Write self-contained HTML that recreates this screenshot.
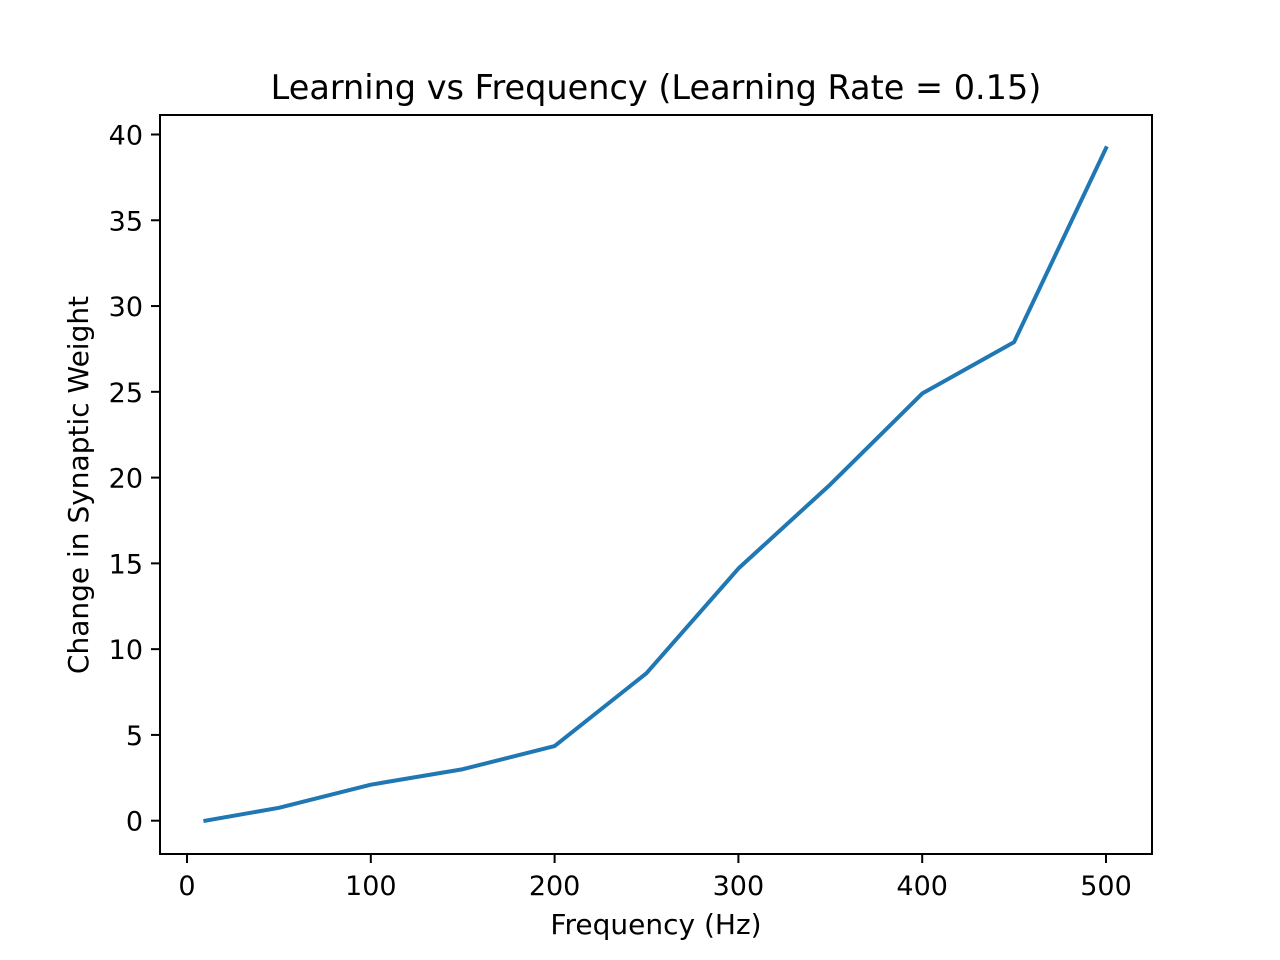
<!DOCTYPE html>
<html><head><meta charset="utf-8"><style>
html,body{margin:0;padding:0;background:#fff;width:1280px;height:960px;overflow:hidden}
text{font-family:"DejaVu Sans","Liberation Sans",sans-serif;fill:#000}
</style></head><body>
<svg id="chart" width="1280" height="960" xmlns="http://www.w3.org/2000/svg">
<rect width="1280" height="960" fill="#fff"/>
<text x="656" y="99" font-size="33.5" text-anchor="middle">Learning vs Frequency (Learning Rate = 0.15)</text>
<text x="656" y="934" font-size="28" text-anchor="middle">Frequency (Hz)</text>
<text x="88" y="485" font-size="28" text-anchor="middle" transform="rotate(-90 88 485)">Change in Synaptic Weight</text>
<g id="xticks"></g><g id="yticks"></g>
<g id="series"></g>
<rect x="160" y="115" width="992" height="739" fill="none" stroke="#000" stroke-width="2"/>
</svg>
<script>
const freqs = [10,50,100,150,200,250,300,350,400,450,500];
const weights = [0,0.75,2.1,3.0,4.35,8.6,14.7,19.6,24.9,27.9,39.2];
const xTickLabels = [0,100,200,300,400,500];
const yTickLabels = [0,5,10,15,20,25,30,35,40];
const NS='http://www.w3.org/2000/svg';
function xs(v){return 187+v*(1106-187)/500;}
function ys(v){return 820.7-v*(820.7-134.5)/40;}
const xg=document.getElementById('xticks'), yg=document.getElementById('yticks'), sg=document.getElementById('series');
function mk(tag,attrs,parent){const e=document.createElementNS(NS,tag);for(const k in attrs)e.setAttribute(k,attrs[k]);parent.appendChild(e);return e;}
xTickLabels.forEach(v=>{
  const l=mk('line',{x1:xs(v),x2:xs(v),y1:854,y2:863,stroke:'#000','stroke-width':2},xg);
  
  
  const t=mk('text',{x:xs(v),y:895,'font-size':27,'text-anchor':'middle'},xg);
  
  
  t.textContent=v;
});
yTickLabels.forEach(v=>{
  const l=mk('line',{x1:151,x2:160,y1:ys(v),y2:ys(v),stroke:'#000','stroke-width':2},yg);
  
  
  const t=mk('text',{x:143,y:ys(v)+10,'font-size':27,'text-anchor':'end'},yg);
  
  
  t.textContent=v;
});
const p=mk('polyline',{points:freqs.map((f,i)=>xs(f)+','+ys(weights[i])).join(' '),fill:'none',stroke:'#1f77b4','stroke-width':4,'stroke-linejoin':'round','stroke-linecap':'square'},sg);


</script>
</body></html>
